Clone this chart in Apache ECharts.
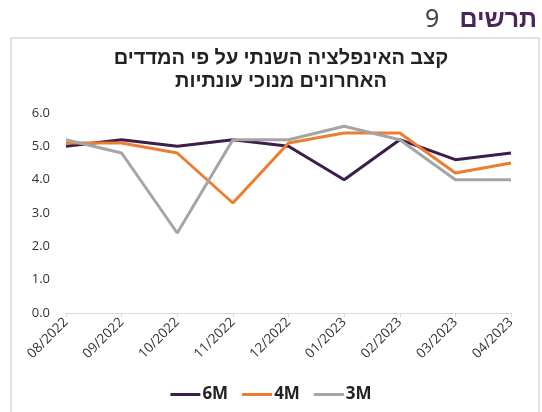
<!DOCTYPE html>
<html>
<head>
<meta charset="utf-8">
<script src="https://cdn.jsdelivr.net/npm/echarts@6/dist/echarts.min.js"></script>
<style>
  html, body { margin: 0; padding: 0; background: #fff; }
  #main { width: 542px; height: 412px; }
</style>
</head>
<body>
<div id="main"></div>
<script>
// categories and values
var months = ["08/2022", "09/2022", "10/2022", "11/2022", "12/2022", "01/2023", "02/2023", "03/2023", "04/2023"];
var m6 = [5.0, 5.2, 5.0, 5.2, 5.0, 4.0, 5.2, 4.6, 4.8];
var m4 = [5.1, 5.1, 4.8, 3.3, 5.1, 5.4, 5.4, 4.2, 4.5];
var m3 = [5.2, 4.8, 2.4, 5.2, 5.2, 5.6, 5.2, 4.0, 4.0];
var yTicks = [0, 1, 2, 3, 4, 5, 6];

var chart = echarts.init(document.getElementById("main"));

function line(name, data, color) {
  return {
    name: name,
    type: "line",
    data: data,
    symbol: "none",
    lineStyle: { color: color, width: 3 },
    itemStyle: { color: color }
  };
}

var option = {
  animation: false,
  textStyle: { fontFamily: "Open Sans, Noto Sans, sans-serif" },
  graphic: [
    // frame round the chart
    {
      type: "rect",
      shape: { x: 11, y: 38, width: 528, height: 390 },
      style: { fill: "none", stroke: "#d9d9d9", lineWidth: 1.5 }
    },
    {
      type: "text", x: 537, y: 20,
      style: { text: "תרשים", font: "bold 25px 'Noto Sans', sans-serif", fill: "#4b2458", align: "right", verticalAlign: "middle" }
    },
    {
      type: "text", x: 425, y: 20,
      style: { text: "9", font: "25px 'Noto Sans', sans-serif", fill: "#444", verticalAlign: "middle" }
    },
    {
      type: "text", x: 281, y: 58,
      style: { text: "קצב האינפלציה השנתי על פי המדדים", font: "600 20px 'Noto Sans', sans-serif", fill: "#222", align: "center", verticalAlign: "middle" }
    },
    {
      type: "text", x: 281, y: 81,
      style: { text: "האחרונים מנוכי עונתיות", font: "600 20px 'Noto Sans', sans-serif", fill: "#222", align: "center", verticalAlign: "middle" }
    }
  ],
  legend: {
    bottom: 4,
    left: "center",
    itemWidth: 30,
    itemHeight: 3,
    itemGap: 14,
    icon: "rect",
    textStyle: { fontSize: 17, fontWeight: "bold", color: "#222", padding: [0, 0, 0, -3] },
    data: ["6M", "4M", "3M"]
  },
  grid: { left: 66, right: 31, top: 113, bottom: 99 },
  xAxis: {
    type: "category",
    boundaryGap: false,
    data: months,
    axisLine: { lineStyle: { color: "#d9d9d9" } },
    axisTick: { show: true, alignWithLabel: true, length: 4, lineStyle: { color: "#d9d9d9" } },
    axisLabel: { rotate: 45, fontSize: 13.5, color: "#333", margin: 7, interval: 0 }
  },
  yAxis: {
    type: "value",
    min: yTicks[0],
    max: yTicks[yTicks.length - 1],
    interval: 1,
    axisLine: { show: false },
    axisTick: { show: false },
    splitLine: { show: false },
    axisLabel: {
      fontSize: 13, color: "#333", margin: 16,
      formatter: function (v) { return v.toFixed(1); }
    }
  },
  series: [
    line("6M", m6, "#3b1e4b"),
    line("4M", m4, "#ed7d31"),
    line("3M", m3, "#a5a5a5")
  ]
};
chart.setOption(option);
</script>
</body>
</html>
